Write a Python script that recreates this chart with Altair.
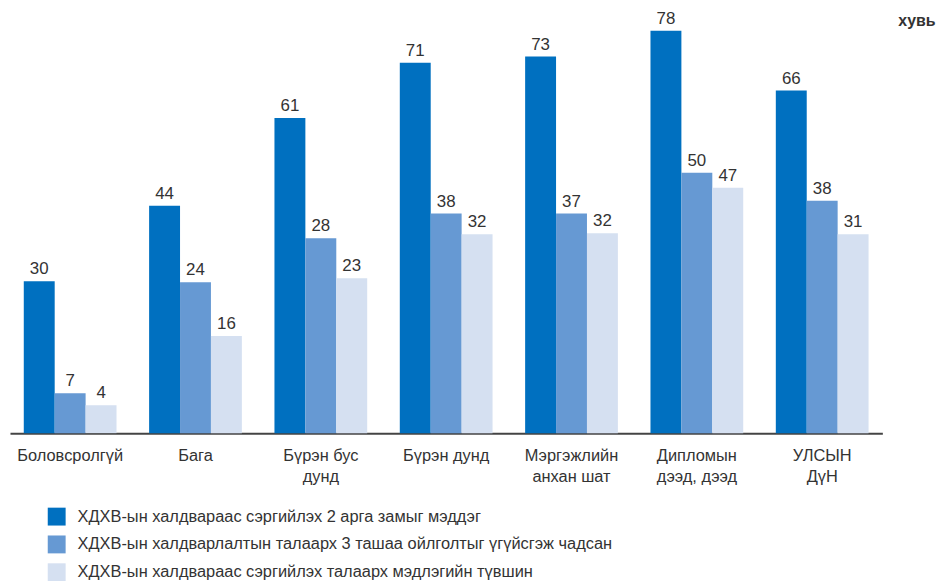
import altair as alt
import pandas as pd

# Categories (use "|" for the line break in the axis label)
categories = ["Боловсролгүй", "Бага", "Бүрэн бус|дунд", "Бүрэн дунд",
              "Мэргэжлийн|анхан шат", "Дипломын|дээд, дээд", "УЛСЫН|ДүН"]

series_names = [
    "ХДХВ-ын халдвараас сэргийлэх 2 арга замыг мэддэг",
    "ХДХВ-ын халдварлалтын талаарх 3 ташаа ойлголтыг үгүйсгэж чадсан",
    "ХДХВ-ын халдвараас сэргийлэх талаарх мэдлэгийн түвшин",
]

# Printed value labels
labels_s1 = [30, 44, 61, 71, 73, 78, 66]
labels_s2 = [7, 24, 28, 38, 37, 50, 38]
labels_s3 = [4, 16, 23, 32, 32, 47, 31]

# Bar heights as drawn in the picture (same scale as series 1)
heights_s1 = [29.4, 44.0, 61.0, 71.7, 72.9, 77.9, 66.3]
heights_s2 = [7.7, 29.2, 37.7, 42.5, 42.5, 50.4, 45.0]
heights_s3 = [5.4, 18.8, 30.0, 38.5, 38.7, 47.5, 38.5]

colors = ["#0070C0", "#6699D3", "#D5E0F1"]
unit_label = "хувь"

rows = []
for s, hs, ls in zip(series_names, [heights_s1, heights_s2, heights_s3],
                     [labels_s1, labels_s2, labels_s3]):
    for c, h, l in zip(categories, hs, ls):
        rows.append({"category": c, "series": s, "height": h, "label": str(l)})
df = pd.DataFrame(rows)

FONT = "Liberation Sans"

base = alt.Chart(df).encode(
    x=alt.X("category:N", sort=categories,
            scale=alt.Scale(paddingInner=0.26, paddingOuter=0.11),
            axis=alt.Axis(title=None, ticks=False, labelAngle=0,
                          labelExpr="split(datum.label, '|')",
                          labelFontSize=16.5, labelFont=FONT, labelColor="#333333",
                          labelPadding=15, labelLineHeight=21,
                          domainColor="#444444", domainWidth=2)),
    xOffset=alt.XOffset("series:N", sort=series_names,
                        scale=alt.Scale(paddingInner=0, paddingOuter=0)),
    y=alt.Y("height:Q", scale=alt.Scale(domain=[0, 80], nice=False), axis=None),
)

bars = base.mark_bar().encode(
    color=alt.Color("series:N", sort=series_names,
                    scale=alt.Scale(domain=series_names, range=colors),
                    legend=alt.Legend(title=None, orient="none", legendX=38, legendY=491,
                                      direction="vertical", symbolType="square",
                                      symbolSize=324, symbolStrokeWidth=0,
                                      labelFontSize=16.5, labelFont=FONT,
                                      labelColor="#333333", labelOffset=12,
                                      rowPadding=10, padding=0, labelLimit=800)),
)

text = base.mark_text(baseline="alphabetic", dy=-7, fontSize=17, font=FONT,
                      color="#333333").encode(text="label:N")

unit = alt.Chart(pd.DataFrame({"t": [unit_label]})).mark_text(
    align="left", baseline="alphabetic", fontSize=16, fontWeight="bold",
    font=FONT, color="#333333"
).encode(x=alt.value(894), y=alt.value(6), text="t:N")

chart = alt.layer(bars, text, unit).properties(
    width=878, height=416,
    autosize=alt.AutoSizeParams(type="none"),
    padding={"left": 2, "top": 10, "right": 55, "bottom": 160},
).configure_view(stroke=None)

chart.save("out.html", embed_options={"renderer": "svg", "actions": False})
